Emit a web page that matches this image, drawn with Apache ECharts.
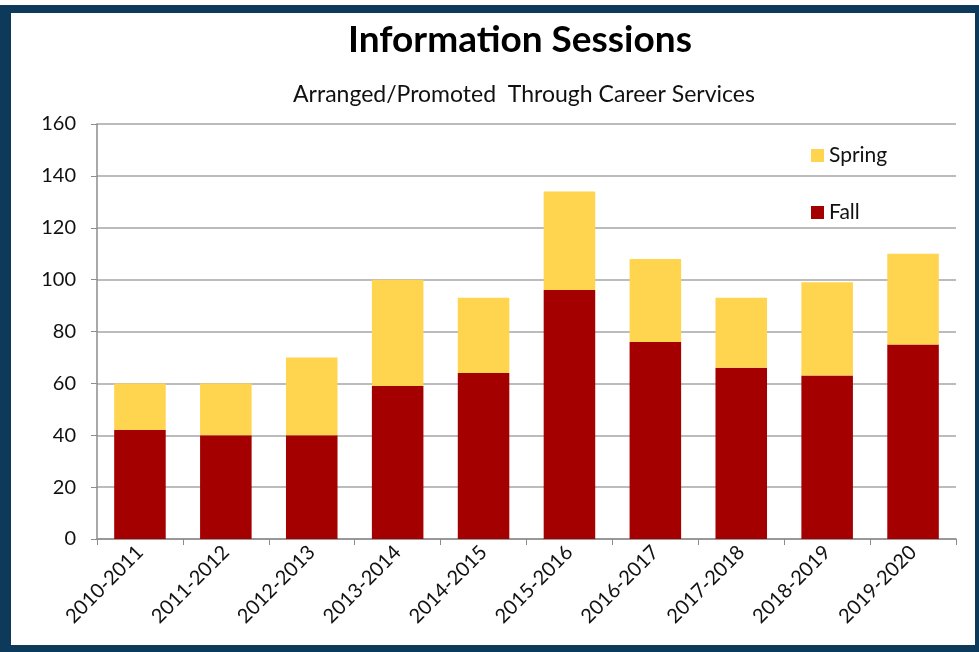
<!DOCTYPE html>
<html>
<head>
    <meta charset="utf-8">
    <title>Information Sessions</title>
    <script src="https://cdn.jsdelivr.net/npm/echarts@6/dist/echarts.min.js"></script>
    <style>
        body { margin: 0; background: #fff; }
        #frame {
            position: absolute; left: 0; top: 5px; width: 979px; height: 647px;
            box-sizing: border-box; border-style: solid; border-color: #0d3a5a;
            border-width: 8px 4px 7px 11px; pointer-events: none; z-index: 2;
        }
        #main { position: absolute; left: 0; top: 0; width: 979px; height: 652px; }
    </style>
</head>
<body>
<div id="main"></div>
<div id="frame"></div>

<script type="text/javascript">
    // 学年
    var years = ['2010-2011', '2011-2012', '2012-2013', '2013-2014', '2014-2015',
                 '2015-2016', '2016-2017', '2017-2018', '2018-2019', '2019-2020'];
    // 秋季 / 春季 场次
    var fall   = [42, 40, 40, 59, 64, 96, 76, 66, 63, 75];
    var spring = [18, 20, 30, 41, 29, 38, 32, 27, 36, 35];

    var font = 'Lato';
    var myChart = echarts.init(document.getElementById('main'));

    myChart.setOption({
        animation: false,
        title: [{
            text: 'Information Sessions',
            left: 515, top: 17, textAlign: 'center',
            textStyle: { fontFamily: font, fontSize: 37, fontWeight: 'bold', color: '#000' }
        }, {
            text: 'Arranged/Promoted  Through Career Services',
            left: 519, top: 78, textAlign: 'center',
            textStyle: { fontFamily: font, fontSize: 23, fontWeight: 'normal', color: '#111' }
        }],
        legend: {
            orient: 'vertical',
            left: 806, top: 140,
            itemWidth: 13, itemHeight: 13, itemGap: 36,
            icon: 'rect',
            textStyle: { fontFamily: font, fontSize: 21, color: '#111' },
            data: ['Spring', 'Fall']
        },
        grid: { left: 97, right: 23, top: 124, bottom: 113 },
        xAxis: {
            type: 'category',
            data: years,
            axisLine: { lineStyle: { color: '#8c8c8c', width: 1.5 } },
            axisTick: { show: true, length: 6, lineStyle: { color: '#8c8c8c' } },
            axisLabel: {
                rotate: 45, margin: 10, color: '#111',
                fontFamily: font, fontSize: 20
            }
        },
        yAxis: {
            type: 'value',
            min: 0, max: 160, interval: 20,
            axisLine: { show: true, lineStyle: { color: '#8c8c8c', width: 1.5 } },
            axisTick: { show: true, length: 6, lineStyle: { color: '#8c8c8c' } },
            splitLine: { lineStyle: { color: '#a6a6a6', width: 1.5 } },
            axisLabel: { color: '#111', fontFamily: font, fontSize: 20, margin: 21 }
        },
        series: [{
            name: 'Fall',
            type: 'bar',
            stack: 'total',
            barCategoryGap: '40%',
            itemStyle: { color: '#a50000' },
            data: fall
        }, {
            name: 'Spring',
            type: 'bar',
            stack: 'total',
            barCategoryGap: '40%',
            itemStyle: { color: '#ffd44f' },
            data: spring
        }]
    });
</script>
</body>
</html>
